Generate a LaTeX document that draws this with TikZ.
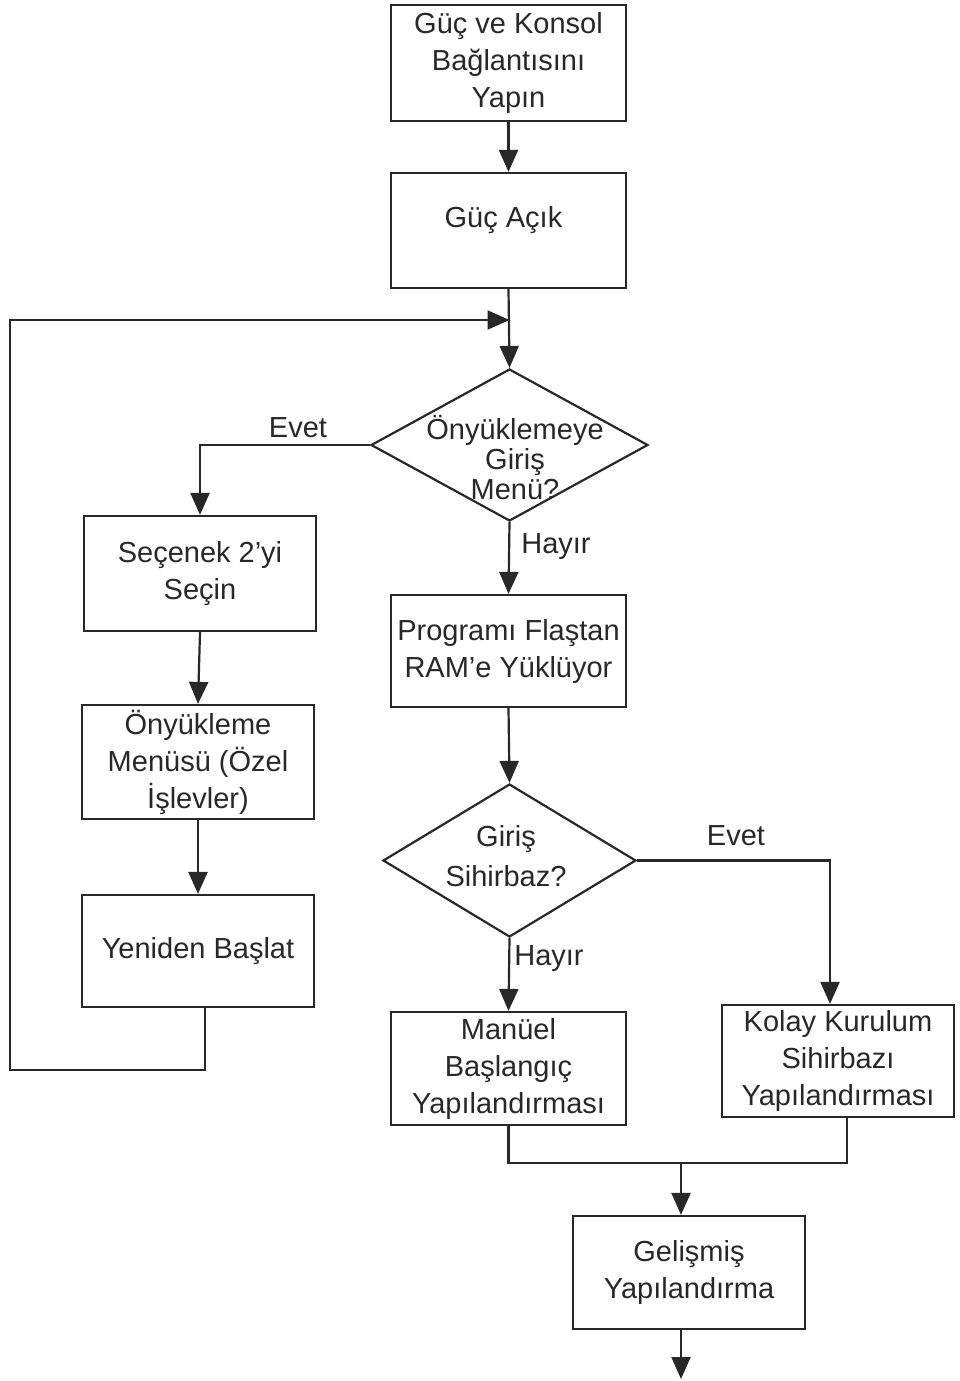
\documentclass[tikz,border=0pt]{standalone}
\usepackage{fontspec}
\setmainfont{Liberation Sans}
\usetikzlibrary{arrows.meta,shapes.geometric}
\definecolor{ink}{RGB}{40,40,40}
\begin{document}
\begin{tikzpicture}[x=1pt,y=-1pt,
  every node/.style={font=\fontsize{29}{37}\selectfont, text=ink},
  box/.style={draw=ink, line width=2.2pt, rectangle, align=center, inner sep=0pt},
  dia/.style={draw=ink, line width=2.2pt, diamond, inner sep=0pt},
  lbl/.style={inner sep=0pt},
  conn/.style={draw=ink, line width=2.2pt},
  arr/.style={conn, -{Triangle[width=19pt,length=22pt]}}]
\useasboundingbox[fill=white] (0,0) rectangle (960,1381);

\node[box, minimum width=235pt, minimum height=116pt] (b1) at (508.5,63) {Güç ve Konsol\\Bağlantısını\\Yapın};
\node[box, minimum width=235pt, minimum height=115pt] (b2) at (508.5,230.5) {\raisebox{28pt}{Güç Açık\hspace{10pt}}};
\node[dia, minimum width=277pt, minimum height=152pt] (d1) at (509.5,445) {};
\node[lbl, align=center, font=\fontsize{29}{30}\selectfont] (d1t) at (515,458) {Önyüklemeye\\Giriş\\Menü?};
\node[box, minimum width=232pt, minimum height=115pt] (sec) at (200,573.5) {Seçenek 2’yi\\Seçin};
\node[box, minimum width=232pt, minimum height=114pt] (ony) at (198,762) {Önyükleme\\Menüsü (Özel\\İşlevler)};
\node[box, minimum width=232pt, minimum height=112pt] (yen) at (198,951) {Yeniden Başlat};
\node[box, minimum width=235pt, minimum height=112pt] (prog) at (508.5,651) {Programı Flaştan\\RAM’e Yüklüyor};
\node[dia, minimum width=253pt, minimum height=153pt] (d2) at (509.5,860.5) {};
\node[lbl, align=center, font=\fontsize{29}{40}\selectfont] (d2t) at (506,856) {Giriş\\Sihirbaz?};
\node[box, minimum width=235pt, minimum height=113pt] (man) at (508.5,1068.5) {Manüel\\Başlangıç\\Yapılandırması};
\node[box, minimum width=232pt, minimum height=112pt] (kol) at (838,1061) {Kolay Kurulum\\Sihirbazı\\Yapılandırması};
\node[box, minimum width=232pt, minimum height=113pt] (gel) at (689,1272.5) {Gelişmiş\\Yapılandırma};

\node[lbl] (e1) at (298,428) {Evet};
\node[lbl] (h1) at (556,547) {Hayır};
\node[lbl] (e2) at (736,836) {Evet};
\node[lbl] (h2) at (549,959) {Hayır};

\coordinate (jn) at (509.5,320);
\coordinate (lp1) at (10,1070);
\coordinate (lp2) at (10,320);
\coordinate (mg) at (681,1163);
\coordinate (endp) at (681,1379);

\draw[arr] (b1.south) -- (b2.north);
\draw[arr] (b2.south) -- (d1.north);
\draw[arr] ([xshift=7pt]yen.south) |- (lp1) -- (lp2) -- (jn);
\draw[arr] (d1.west) -| (sec.north);
\draw[arr] (sec.south) -- (ony.north);
\draw[arr] (ony.south) -- (yen.north);
\draw[arr] (d1.south) -- (prog.north);
\draw[arr] (prog.south) -- (d2.north);
\draw[arr] (d2.east) -| ([xshift=-8pt]kol.north);
\draw[arr] (d2.south) -- (man.north);
\draw[conn] (man.south) |- (mg) -| ([xshift=9pt]kol.south);
\draw[arr] (mg) -- (gel.north -| mg);
\draw[arr] (gel.south -| endp) -- (endp);
\end{tikzpicture}
\end{document}
